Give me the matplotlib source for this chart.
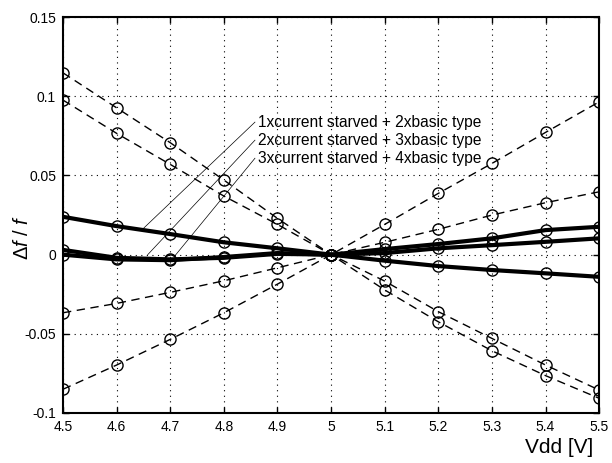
import numpy as np
import matplotlib
matplotlib.use("Agg")
import matplotlib.pyplot as plt

plt.rcParams['font.family'] = ['Liberation Sans', 'DejaVu Sans']
plt.rcParams['mathtext.fontset'] = 'custom'
plt.rcParams['mathtext.rm'] = 'Liberation Sans'
plt.rcParams['mathtext.it'] = 'Liberation Sans:italic'

vdd = [4.5, 4.6, 4.7, 4.8, 4.9, 5.0, 5.1, 5.2, 5.3, 5.4, 5.5]

# dashed curves
dashA = [0.1148, 0.0927, 0.0707, 0.0471, 0.0229, 0.0, -0.0223, -0.0424, -0.0607, -0.0764, -0.0907]
dashB = [0.0976, 0.0766, 0.0570, 0.0370, 0.0191, 0.0, -0.0167, -0.0360, -0.0529, -0.0697, -0.0855]
dashC = [-0.0367, -0.0308, -0.0238, -0.0165, -0.0083, 0.0, 0.0078, 0.0160, 0.0250, 0.0328, 0.0397]
dashD = [-0.0850, -0.0697, -0.0535, -0.0367, -0.0186, 0.0, 0.0191, 0.0387, 0.0576, 0.0772, 0.0965]

# solid curves
solidE = [0.0239, 0.0180, 0.0130, 0.0078, 0.0040, 0.0, -0.0038, -0.0072, -0.0097, -0.0118, -0.0140]
solidF = [0.0030, -0.0020, -0.0030, -0.0020, 0.0005, 0.0, 0.0035, 0.0067, 0.0103, 0.0155, 0.0176]
solidG = [0.0000, -0.0030, -0.0035, -0.0015, 0.0010, 0.0, 0.0010, 0.0040, 0.0060, 0.0081, 0.0103]

labels = ["1xcurrent starved + 2xbasic type",
          "2xcurrent starved + 3xbasic type",
          "3xcurrent starved + 4xbasic type"]
label_xy = [(4.864, 0.0837), (4.864, 0.0723), (4.864, 0.0609)]
arrow_xy = [(4.65, 0.0166), (4.658, 0.0), (4.708, -0.001)]

xticks = [4.5, 4.6, 4.7, 4.8, 4.9, 5.0, 5.1, 5.2, 5.3, 5.4, 5.5]
xticklabels = ["4.5", "4.6", "4.7", "4.8", "4.9", "5", "5.1", "5.2", "5.3", "5.4", "5.5"]
yticks = [-0.1, -0.05, 0, 0.05, 0.1, 0.15]
yticklabels = ["-0.1", "-0.05", "0", "0.05", "0.1", "0.15"]

fig = plt.figure(figsize=(6.12, 4.63), dpi=100)
ax = fig.add_axes([0.103, 0.108, 0.876, 0.855])

for d in [dashA, dashB, dashC, dashD]:
    ax.plot(vdd, d, "k--", lw=1.0, dashes=(6, 4), marker="o", mfc="none",
            mec="k", ms=8, mew=1.0)
for s in [solidE, solidF, solidG]:
    ax.plot(vdd, s, "k-", lw=3.0, marker="o", mfc="none", mec="k", ms=8, mew=1.0)

for lab, (tx, ty), (px, py) in zip(labels, label_xy, arrow_xy):
    ax.plot([tx - 0.006, px], [ty, py], "k-", lw=0.5)
    ax.text(tx, ty, lab, fontsize=11.2, va="center", ha="left")

ax.set_xlim(4.5, 5.5)
ax.set_ylim(-0.1, 0.15)
ax.set_xticks(xticks)
ax.set_xticklabels(xticklabels, fontsize=10)
ax.set_yticks(yticks)
ax.set_yticklabels(yticklabels, fontsize=10)
ax.tick_params(direction="in", length=4, width=1.0, top=True, right=True, pad=5)
ax.grid(True, color="k", linestyle=(0, (1, 4)), lw=0.8)
for sp in ax.spines.values():
    sp.set_linewidth(1.5)

fig.text(0.969, 0.022, "Vdd [V]", fontsize=15, ha="right", va="baseline")
fig.text(0.037, 0.488, r"$\Delta f$ / $f$", fontsize=14.5, rotation=90,
         ha="center", va="center")

fig.savefig("out.png", dpi=100)
